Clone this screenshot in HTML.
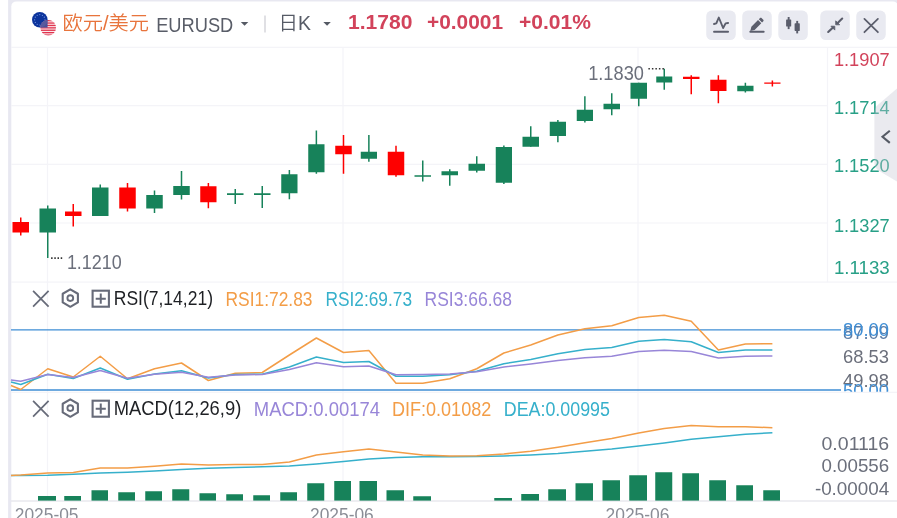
<!DOCTYPE html>
<html lang="zh-CN"><head><meta charset="utf-8"><title>欧元/美元 EURUSD 日K</title>
<style>
html,body{margin:0;padding:0;background:#fff;overflow:hidden}
svg{display:block}
text{font-family:"Liberation Sans","Noto Sans CJK SC",sans-serif}
.cjk{font-family:"Liberation Sans","Noto Sans CJK SC",sans-serif}
</style></head><body>
<svg width="897" height="518" viewBox="0 0 897 518">
<rect width="897" height="518" fill="#fff"/>
<rect x="8.1" y="-6" width="893" height="540" rx="6" fill="#e8e8f1"/>
<rect x="11.3" y="1.4" width="886.6" height="540" rx="5" fill="#fff"/>
<g stroke="#f4f4f8" stroke-width="1.2" fill="none">
<line x1="11" y1="47.4" x2="897" y2="47.4"/>
<line x1="11" y1="105.6" x2="827.5" y2="105.6"/>
<line x1="11" y1="164.3" x2="827.5" y2="164.3"/>
<line x1="11" y1="223" x2="827.5" y2="223"/>
<line x1="11" y1="282.2" x2="897" y2="282.2"/>
<line x1="11" y1="392.4" x2="897" y2="392.4"/>
<line x1="11" y1="501" x2="897" y2="501" stroke="#e9e9ee" stroke-width="1.5"/>
<line x1="47.5" y1="47.4" x2="47.5" y2="501"/>
<line x1="343" y1="47.4" x2="343" y2="501"/>
<line x1="638" y1="47.4" x2="638" y2="501"/>
<line x1="827.5" y1="47.4" x2="827.5" y2="282.2"/>
</g>
<g id="flags">
<clipPath id="cu"><circle cx="48.2" cy="27.8" r="7.8"/></clipPath>
<circle cx="39.8" cy="19.8" r="7.8" fill="#0c349c"/>
<g fill="#7396e3"><circle cx="39.80" cy="14.60" r=".6"/><circle cx="42.40" cy="15.30" r=".6"/><circle cx="44.30" cy="17.20" r=".6"/><circle cx="45.00" cy="19.80" r=".6"/><circle cx="44.30" cy="22.40" r=".6"/><circle cx="42.40" cy="24.30" r=".6"/><circle cx="39.80" cy="25.00" r=".6"/><circle cx="37.20" cy="24.30" r=".6"/><circle cx="35.30" cy="22.40" r=".6"/><circle cx="34.60" cy="19.80" r=".6"/><circle cx="35.30" cy="17.20" r=".6"/><circle cx="37.20" cy="15.30" r=".6"/></g>
<g clip-path="url(#cu)"><rect x="40" y="19" width="17" height="18" fill="#fbe9ec"/>
<g fill="#e0344e"><rect x="40" y="20" width="17" height="1.3"/><rect x="40" y="22.4" width="17" height="1.3"/><rect x="40" y="24.8" width="17" height="1.3"/><rect x="40" y="27.2" width="17" height="1.3"/><rect x="40" y="29.6" width="17" height="1.3"/><rect x="40" y="32" width="17" height="1.3"/><rect x="40" y="34.4" width="17" height="1.3"/></g>
<rect x="40" y="19" width="7.6" height="8.6" fill="#4d5098"/></g>
<clipPath id="ce"><circle cx="39.8" cy="19.8" r="7.8"/></clipPath>
<circle cx="48.2" cy="27.8" r="7.8" fill="#585a9e" clip-path="url(#ce)"/>
</g>
<text x="62.5" y="29.6" font-size="19.5" fill="#e8743c" font-weight="350" textLength="86.50" lengthAdjust="spacingAndGlyphs">欧元/美元</text>
<text x="156.2" y="31.6" font-size="20" fill="#595d68" textLength="77.10" lengthAdjust="spacingAndGlyphs">EURUSD</text>
<path d="M240.8 22h7.5l-3.75 3.8z" fill="#555a64"/>
<line x1="265" y1="15.5" x2="265" y2="32.5" stroke="#d0d0d6" stroke-width="1.3"/>
<text x="278.6" y="30.4" font-size="19.5" fill="#565b66" font-weight="350" textLength="32.40" lengthAdjust="spacingAndGlyphs">日K</text>
<path d="M323.3 22h7.5l-3.75 3.8z" fill="#555a64"/>
<text x="348" y="28.8" font-size="20.4" fill="#d2435b" font-weight="bold" textLength="64.50" lengthAdjust="spacingAndGlyphs">1.1780</text>
<text x="427" y="28.8" font-size="20.4" fill="#d2435b" font-weight="bold" textLength="76.00" lengthAdjust="spacingAndGlyphs">+0.0001</text>
<text x="519" y="28.8" font-size="20.4" fill="#d2435b" font-weight="bold" textLength="72.00" lengthAdjust="spacingAndGlyphs">+0.01%</text>
<rect x="706.25" y="10.6" width="29.5" height="29.5" rx="5.5" fill="#e9eaf1"/>
<rect x="742.25" y="10.6" width="29.5" height="29.5" rx="5.5" fill="#e9eaf1"/>
<rect x="778.3" y="10.6" width="29.5" height="29.5" rx="5.5" fill="#e9eaf1"/>
<rect x="820.25" y="10.6" width="29.5" height="29.5" rx="5.5" fill="#e9eaf1"/>
<rect x="856.25" y="10.6" width="29.5" height="29.5" rx="5.5" fill="#e9eaf1"/>
<g fill="none" stroke="#5b5e6c" stroke-width="1.9" stroke-linecap="round" stroke-linejoin="round">
<path d="M714 24l2.3-.6l2.5-5.9l4.3 10.5l2.5-4.6l2.5-.4"/><path d="M714 31.75h14.1"/>
<path d="M750.3 31.75h13.4"/>
</g>
<path d="M750.30 31.00L751.36 26.69L758.01 20.04L761.26 23.29L754.61 29.94zM758.79 19.26L760.27 17.78L761.26 17.78L763.52 20.04L763.52 21.03L762.04 22.51z" fill="#5b5e6c"/>
<g fill="#5b5e6c"><rect x="786.1" y="19.5" width="5.1" height="7.1" rx=".6"/><rect x="787.7" y="17" width="1.9" height="12.1"/><rect x="794.6" y="23.3" width="5.200" height="7.6" rx=".6"/><rect x="796.25" y="20.9" width="1.9" height="12.5"/></g>
<g fill="#5b5e6c" stroke="#5b5e6c" stroke-linejoin="round"><path d="M828.2 32l4.800-4.600M842.2 18.600l-4.800 4.600" stroke-width="2.1" stroke-linecap="round" fill="none"/><path d="M830.9 26.200h3.900v3.900zM835.700 20.800v4h4z" stroke-width=".8"/></g>
<g fill="none" stroke="#5b5e6c" stroke-width="1.75" stroke-linecap="round"><path d="M864.4 18.900l13.500 13.300M877.900 18.900l-13.500 13.300"/></g>
<rect x="20.00" y="217.5" width="1.5" height="18.00" fill="#fe0000"/><rect x="12.5" y="222" width="16.50" height="10.50" fill="#fe0000"/>
<rect x="47.00" y="205.5" width="1.5" height="52.50" fill="#17825a"/><rect x="39.5" y="208.5" width="16.50" height="24.00" fill="#17825a"/>
<rect x="72.50" y="204" width="1.5" height="22.50" fill="#fe0000"/><rect x="65" y="211.5" width="16.50" height="4.50" fill="#fe0000"/>
<rect x="99.50" y="184.5" width="1.5" height="31.50" fill="#17825a"/><rect x="92" y="187.5" width="16.50" height="28.50" fill="#17825a"/>
<rect x="126.75" y="183" width="1.5" height="28.50" fill="#fe0000"/><rect x="119.25" y="187.5" width="16.50" height="21.00" fill="#fe0000"/>
<rect x="153.75" y="190.5" width="1.5" height="22.50" fill="#17825a"/><rect x="146.25" y="195" width="16.50" height="13.50" fill="#17825a"/>
<rect x="180.75" y="171" width="1.5" height="28.50" fill="#17825a"/><rect x="173.25" y="186" width="16.50" height="9.00" fill="#17825a"/>
<rect x="207.62" y="183" width="1.5" height="25.25" fill="#fe0000"/><rect x="200.25" y="186.25" width="16.25" height="16.00" fill="#fe0000"/>
<rect x="234.50" y="189" width="1.5" height="15.00" fill="#17825a"/><rect x="227" y="193.25" width="16.50" height="1.75" fill="#17825a"/>
<rect x="261.50" y="186" width="1.5" height="22.00" fill="#17825a"/><rect x="254" y="193.25" width="16.50" height="1.75" fill="#17825a"/>
<rect x="288.62" y="170" width="1.5" height="29.25" fill="#17825a"/><rect x="281.25" y="174.25" width="16.25" height="19.00" fill="#17825a"/>
<rect x="315.62" y="130.5" width="1.5" height="43.25" fill="#17825a"/><rect x="308.25" y="144.25" width="16.25" height="28.00" fill="#17825a"/>
<rect x="342.75" y="135" width="1.5" height="38.75" fill="#fe0000"/><rect x="335.25" y="145.75" width="16.50" height="8.50" fill="#fe0000"/>
<rect x="368.12" y="135" width="1.5" height="26.75" fill="#17825a"/><rect x="360.75" y="151.75" width="16.25" height="7.00" fill="#17825a"/>
<rect x="395.25" y="145.75" width="1.5" height="31.00" fill="#fe0000"/><rect x="387.75" y="151.75" width="16.50" height="23.50" fill="#fe0000"/>
<rect x="422.00" y="160.5" width="1.5" height="21.00" fill="#17825a"/><rect x="414.5" y="175.25" width="16.50" height="1.50" fill="#17825a"/>
<rect x="449.00" y="169.25" width="1.5" height="16.50" fill="#17825a"/><rect x="441.5" y="171.25" width="16.50" height="4.00" fill="#17825a"/>
<rect x="476.00" y="156.25" width="1.5" height="16.25" fill="#17825a"/><rect x="468.5" y="163.75" width="16.50" height="7.00" fill="#17825a"/>
<rect x="503.12" y="145.5" width="1.5" height="38.50" fill="#17825a"/><rect x="495.75" y="147" width="16.25" height="35.75" fill="#17825a"/>
<rect x="530.00" y="126.25" width="1.5" height="20.50" fill="#17825a"/><rect x="522.5" y="136.75" width="16.50" height="10.00" fill="#17825a"/>
<rect x="557.12" y="120" width="1.5" height="22.25" fill="#17825a"/><rect x="549.75" y="121.75" width="16.25" height="14.25" fill="#17825a"/>
<rect x="584.12" y="96.25" width="1.5" height="26.25" fill="#17825a"/><rect x="576.75" y="109.75" width="16.25" height="11.25" fill="#17825a"/>
<rect x="611.00" y="93.25" width="1.5" height="22.00" fill="#17825a"/><rect x="603.5" y="103.75" width="16.50" height="5.50" fill="#17825a"/>
<rect x="638.00" y="82.75" width="1.5" height="23.50" fill="#17825a"/><rect x="630.5" y="82.75" width="16.50" height="16.00" fill="#17825a"/>
<rect x="663.50" y="68.75" width="1.5" height="21.00" fill="#17825a"/><rect x="656.25" y="76.5" width="16.00" height="6.00" fill="#17825a"/>
<rect x="690.50" y="75.25" width="1.5" height="19.00" fill="#fe0000"/><rect x="683" y="76.75" width="16.50" height="2.25" fill="#fe0000"/>
<rect x="717.62" y="75.25" width="1.5" height="28.00" fill="#fe0000"/><rect x="710.25" y="79.75" width="16.25" height="11.25" fill="#fe0000"/>
<rect x="744.62" y="82.75" width="1.5" height="9.75" fill="#17825a"/><rect x="737.25" y="85.75" width="16.25" height="5.50" fill="#17825a"/>
<rect x="771.62" y="80.5" width="1.5" height="6.00" fill="#fe0000"/><rect x="764.25" y="82.5" width="16.25" height="1.25" fill="#fe0000"/>
<path d="M51.1 258.100h11.5" stroke="#333" stroke-width="1.6" stroke-dasharray="1.5 1.7" fill="none"/>
<text x="66.9" y="268.5" font-size="19.6" fill="#6b6f7b" textLength="54.90" lengthAdjust="spacingAndGlyphs">1.1210</text>
<path d="M648.400 68.700h15.500" stroke="#333" stroke-width="1.6" stroke-dasharray="1.5 2" fill="none"/>
<text x="588.2" y="79.6" font-size="19.6" fill="#6b6f7b" textLength="55.70" lengthAdjust="spacingAndGlyphs">1.1830</text>
<text x="833.9" y="65.7" font-size="19" fill="#d2435b" textLength="55.80" lengthAdjust="spacingAndGlyphs">1.1907</text>
<text x="833.9" y="113.7" font-size="19" fill="#28a087" textLength="55.80" lengthAdjust="spacingAndGlyphs">1.1714</text>
<text x="833.9" y="172.4" font-size="19" fill="#28a087" textLength="55.80" lengthAdjust="spacingAndGlyphs">1.1520</text>
<text x="833.9" y="231.8" font-size="19" fill="#28a087" textLength="55.80" lengthAdjust="spacingAndGlyphs">1.1327</text>
<text x="833.9" y="273.8" font-size="19" fill="#28a087" textLength="55.80" lengthAdjust="spacingAndGlyphs">1.1133</text>
<path d="M897 88.500L878.300 104.600Q874.400 108 874.400 113V162.500Q874.400 167.500 878.300 170.400L897 181.500z" fill="#c4c4d2" fill-opacity=".36"/>
<path d="M889.800 130.700l-7.300 6.100l7.300 6.100" fill="none" stroke="#555a64" stroke-width="2.1"/>
<g fill="none" stroke="#676b79" transform="translate(0,0)"><path d="M33.1 290.9l15.5 15.7M48.600 290.9l-15.5 15.700" stroke-width="1.75"/><path d="M70.3 289.4l7.600 4.350v8.700l-7.600 4.350l-7.600-4.350v-8.700z" stroke-linejoin="round" stroke-width="2.1"/><circle cx="70.3" cy="298.1" r="2.9" stroke-width="1.9"/><rect x="92.6" y="290.7" width="16.3" height="16" stroke-width="2.1"/><path d="M100.75 293.6v10.200M95.700 298.700h10.100" stroke-width="2"/></g>
<text x="113.75" y="305.3" font-size="19.5" fill="#1e2024" textLength="99.25" lengthAdjust="spacingAndGlyphs">RSI(7,14,21)</text>
<text x="225.5" y="305.5" font-size="19.5" fill="#f39d47" textLength="87.00" lengthAdjust="spacingAndGlyphs">RSI1:72.83</text>
<text x="325.5" y="305.5" font-size="19.5" fill="#36b0cb" textLength="86.50" lengthAdjust="spacingAndGlyphs">RSI2:69.73</text>
<text x="424.5" y="305.5" font-size="19.5" fill="#9886d8" textLength="87.50" lengthAdjust="spacingAndGlyphs">RSI3:66.68</text>
<line x1="11" y1="329.8" x2="841" y2="329.8" stroke="#3e8ed5" stroke-width="1.35"/>
<line x1="11" y1="390" x2="841" y2="390" stroke="#3e8ed5" stroke-width="1.35"/>
<polyline points="11.00,385.50 20.75,389.50 47.75,368.75 73.25,377.00 100.25,356.25 127.50,378.75 154.50,368.75 181.50,363.00 208.38,380.50 235.25,373.25 262.25,372.50 289.38,355.00 316.38,338.00 343.50,352.50 368.88,350.50 396.00,383.25 422.75,383.25 449.75,378.75 476.75,368.75 503.88,353.00 530.75,345.00 557.88,335.00 584.88,328.75 611.75,325.75 638.75,317.50 664.25,315.25 691.25,321.25 718.38,350.00 745.38,344.00 772.38,343.75" fill="none" stroke="#f39d47" stroke-width="1.5" stroke-linejoin="round"/>
<polyline points="11.00,382.00 20.75,384.50 47.75,374.25 73.25,378.50 100.25,368.00 127.50,379.25 154.50,374.00 181.50,370.75 208.38,378.00 235.25,374.50 262.25,374.25 289.38,367.00 316.38,357.00 343.50,362.50 368.88,361.50 396.00,376.25 422.75,376.25 449.75,374.75 476.75,371.25 503.88,363.75 530.75,359.50 557.88,353.75 584.88,349.50 611.75,347.50 638.75,341.25 664.25,339.50 691.25,341.75 718.38,352.50 745.38,350.00 772.38,350.00" fill="none" stroke="#36b0cb" stroke-width="1.5" stroke-linejoin="round"/>
<polyline points="11.00,380.00 20.75,381.25 47.75,374.50 73.25,377.50 100.25,370.50 127.50,378.25 154.50,374.25 181.50,372.25 208.38,377.25 235.25,375.00 262.25,374.50 289.38,369.50 316.38,362.75 343.50,366.75 368.88,366.00 396.00,374.75 422.75,374.50 449.75,374.00 476.75,371.75 503.88,367.00 530.75,364.00 557.88,360.50 584.88,357.75 611.75,356.25 638.75,351.50 664.25,350.25 691.25,351.50 718.38,358.00 745.38,356.25 772.38,356.00" fill="none" stroke="#9886d8" stroke-width="1.5" stroke-linejoin="round"/>
<text x="843" y="338.5" font-size="19" fill="#5d7da6" textLength="45.90" lengthAdjust="spacingAndGlyphs">87.09</text>
<text x="843" y="335.9" font-size="19" fill="#3e8ed5" textLength="45.90" lengthAdjust="spacingAndGlyphs">80.00</text>
<text x="843" y="362.7" font-size="19" fill="#6b6f7b" textLength="45.90" lengthAdjust="spacingAndGlyphs">68.53</text>
<text x="843" y="386.7" font-size="19" fill="#6b6f7b" textLength="45.90" lengthAdjust="spacingAndGlyphs">49.98</text>
<clipPath id="c50"><rect x="830" y="370" width="67" height="21.8"/></clipPath>
<g clip-path="url(#c50)"><text x="843" y="396.9" font-size="19" fill="#3e8ed5" textLength="45.90" lengthAdjust="spacingAndGlyphs">50.00</text></g>
<g fill="none" stroke="#676b79" transform="translate(0,110)"><path d="M33.1 290.9l15.5 15.7M48.600 290.9l-15.5 15.700" stroke-width="1.75"/><path d="M70.3 289.4l7.600 4.350v8.700l-7.600 4.350l-7.600-4.350v-8.700z" stroke-linejoin="round" stroke-width="2.1"/><circle cx="70.3" cy="298.1" r="2.9" stroke-width="1.9"/><rect x="92.6" y="290.7" width="16.3" height="16" stroke-width="2.1"/><path d="M100.75 293.6v10.200M95.700 298.700h10.100" stroke-width="2"/></g>
<text x="113.75" y="415.3" font-size="19.5" fill="#1e2024" textLength="127.50" lengthAdjust="spacingAndGlyphs">MACD(12,26,9)</text>
<text x="253.75" y="415.5" font-size="19.5" fill="#9886d8" textLength="126.25" lengthAdjust="spacingAndGlyphs">MACD:0.00174</text>
<text x="392" y="415.5" font-size="19.5" fill="#f39d47" textLength="99.25" lengthAdjust="spacingAndGlyphs">DIF:0.01082</text>
<text x="503.75" y="415.5" font-size="19.5" fill="#36b0cb" textLength="106.25" lengthAdjust="spacingAndGlyphs">DEA:0.00995</text>
<rect x="38" y="496" width="18.00" height="4.60" fill="#17825a"/>
<rect x="64.25" y="496" width="16.75" height="4.60" fill="#17825a"/>
<rect x="91.5" y="490.25" width="16.50" height="10.35" fill="#17825a"/>
<rect x="118.25" y="492.25" width="16.75" height="8.35" fill="#17825a"/>
<rect x="145.25" y="491.25" width="16.75" height="9.35" fill="#17825a"/>
<rect x="172.25" y="489.25" width="17.00" height="11.35" fill="#17825a"/>
<rect x="199.5" y="493.25" width="16.50" height="7.35" fill="#17825a"/>
<rect x="226.25" y="494.25" width="16.75" height="6.35" fill="#17825a"/>
<rect x="253.25" y="495.25" width="16.75" height="5.35" fill="#17825a"/>
<rect x="280.25" y="492.25" width="16.75" height="8.35" fill="#17825a"/>
<rect x="307.25" y="483.25" width="17.00" height="17.35" fill="#17825a"/>
<rect x="334.25" y="481" width="16.75" height="19.60" fill="#17825a"/>
<rect x="359.5" y="481" width="17.50" height="19.60" fill="#17825a"/>
<rect x="386.5" y="490.25" width="17.50" height="10.35" fill="#17825a"/>
<rect x="413.25" y="496.25" width="17.75" height="4.35" fill="#17825a"/>
<rect x="494.25" y="498" width="17.75" height="2.60" fill="#17825a"/>
<rect x="521.25" y="494" width="17.75" height="6.60" fill="#17825a"/>
<rect x="548.25" y="489.25" width="17.75" height="11.35" fill="#17825a"/>
<rect x="575.5" y="483.25" width="17.50" height="17.35" fill="#17825a"/>
<rect x="602.5" y="480.25" width="17.50" height="20.35" fill="#17825a"/>
<rect x="629.25" y="475.25" width="17.75" height="25.35" fill="#17825a"/>
<rect x="655.25" y="472.25" width="17.00" height="28.35" fill="#17825a"/>
<rect x="682.25" y="473.25" width="16.75" height="27.35" fill="#17825a"/>
<rect x="709.25" y="480.25" width="16.75" height="20.35" fill="#17825a"/>
<rect x="736.25" y="485.25" width="16.75" height="15.35" fill="#17825a"/>
<rect x="763.25" y="490.25" width="16.75" height="10.35" fill="#17825a"/>
<polyline points="11.00,475.50 20.75,475.50 47.75,475.25 73.25,474.25 100.25,473.00 127.50,472.25 154.50,471.00 181.50,469.50 208.38,468.25 235.25,467.50 262.25,466.75 289.38,466.00 316.38,464.00 343.50,461.50 368.88,459.00 396.00,457.50 422.75,456.75 449.75,456.75 476.75,456.50 503.88,456.00 530.75,455.00 557.88,453.50 584.88,451.25 611.75,449.00 638.75,446.00 664.25,443.00 691.25,439.25 718.38,436.75 745.38,434.25 772.38,432.75" fill="none" stroke="#36b0cb" stroke-width="1.5" stroke-linejoin="round"/>
<polyline points="11.00,475.50 20.75,475.00 47.75,473.00 73.25,472.50 100.25,468.00 127.50,468.00 154.50,466.25 181.50,464.00 208.38,465.00 235.25,464.50 262.25,464.50 289.38,462.00 316.38,455.00 343.50,451.75 368.88,449.00 396.00,452.00 422.75,455.00 449.75,456.00 476.75,455.75 503.88,454.00 530.75,451.25 557.88,447.25 584.88,442.75 611.75,438.50 638.75,433.00 664.25,428.50 691.25,425.50 718.38,426.75 745.38,426.75 772.38,427.75" fill="none" stroke="#f39d47" stroke-width="1.5" stroke-linejoin="round"/>
<text x="821.5" y="450" font-size="19" fill="#6b6f7b" textLength="67.70" lengthAdjust="spacingAndGlyphs">0.01116</text>
<text x="821.5" y="471.9" font-size="19" fill="#6b6f7b" textLength="67.70" lengthAdjust="spacingAndGlyphs">0.00556</text>
<text x="814.9" y="494.6" font-size="19" fill="#6b6f7b" textLength="74.30" lengthAdjust="spacingAndGlyphs">-0.00004</text>
<text x="14.75" y="521.4" font-size="18" fill="#8a8d96" textLength="63.75" lengthAdjust="spacingAndGlyphs">2025-05</text>
<text x="310" y="521.4" font-size="18" fill="#8a8d96" textLength="63.75" lengthAdjust="spacingAndGlyphs">2025-06</text>
<text x="605.5" y="521.4" font-size="18" fill="#8a8d96" textLength="64.00" lengthAdjust="spacingAndGlyphs">2025-06</text>
</svg></body></html>
